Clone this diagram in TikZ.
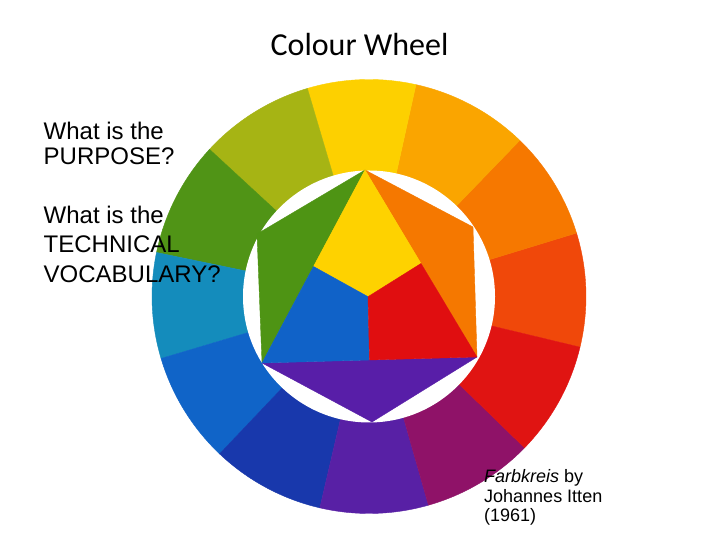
\documentclass[tikz,border=0pt]{standalone}
\usepackage{fontspec}
\setmainfont{Liberation Sans}
\newfontfamily\titlefont{Carlito}
\definecolor{cY}{RGB}{253,208,0}
\definecolor{cYO}{RGB}{250,165,0}
\definecolor{cO}{RGB}{246,120,0}
\definecolor{cRO}{RGB}{240,72,10}
\definecolor{cR}{RGB}{224,20,18}
\definecolor{cRV}{RGB}{143,18,104}
\definecolor{cV}{RGB}{88,32,165}
\definecolor{cBV}{RGB}{24,56,172}
\definecolor{cB}{RGB}{16,100,200}
\definecolor{cBG}{RGB}{20,140,188}
\definecolor{cG}{RGB}{80,148,22}
\definecolor{cYG}{RGB}{166,180,20}
\definecolor{iY}{RGB}{254,210,0}
\definecolor{iB}{RGB}{16,98,200}
\definecolor{iR}{RGB}{224,14,16}
\definecolor{iG}{RGB}{78,148,20}
\definecolor{iO}{RGB}{245,120,0}
\definecolor{iV}{RGB}{88,30,168}
\begin{document}
\begin{tikzpicture}[x=1pt,y=1pt,
  bigtxt/.style={inner sep=0pt, anchor=base west, font=\fontsize{24}{25}\selectfont},
  smalltxt/.style={inner sep=0pt, anchor=base west, font=\fontsize{18}{19.5}\selectfont},
  patch/.style={fill=#1, draw=#1, line width=0.4pt, line join=round}]
\useasboundingbox (0,0) rectangle (720,540);
\fill[white] (0,0) rectangle (720,540);
\coordinate (C) at (369,243.5);
% outer ring
\foreach \a/\b/\c in {-13.5/17/cRO, 17/46/cO, 46/77.5/cYO, 77.5/106.5/cY,
  106.5/137.3/cYG, 137.3/168.3/cG, 168.3/196.6/cBG, 196.6/226.5/cB,
  226.5/256.9/cBV, 256.9/285.9/cV, 285.9/315.8/cRV, 315.8/346.5/cR}
  {\path[patch=\c] (C) -- ++(\a:217) arc[start angle=\a, end angle=\b, radius=217] -- cycle;}
\fill[white] (C) circle[radius=126];
% inner figure
\coordinate (T) at (365,370);
\coordinate (UL) at (257,306);
\coordinate (UR) at (473,313);
\coordinate (LL) at (262,177);
\coordinate (LR) at (477,183);
\coordinate (B) at (372,118);
\coordinate (M) at (368,243.3);
\coordinate (ML) at (313.5,273.5);
\coordinate (MR) at (421,276.5);
\coordinate (MB) at (369.5,180);
\path[patch=iG] (T) -- (UL) -- (LL) -- cycle;
\path[patch=iO] (T) -- (UR) -- (LR) -- cycle;
\path[patch=iV] (LL) -- (LR) -- (B) -- cycle;
\path[patch=iY] (T) -- (ML) -- (M) -- (MR) -- cycle;
\path[patch=iB] (ML) -- (LL) -- (MB) -- (M) -- cycle;
\path[patch=iR] (M) -- (MB) -- (LR) -- (MR) -- cycle;
% texts
\node[inner sep=0pt, anchor=base, font=\titlefont\fontsize{32}{38}\selectfont] (title) at (359.5,484.3) {Colour Wheel};
\node[bigtxt] (q1a) at (43.5,400) {What is the};
\node[bigtxt] (q1b) at (43.5,375) {PURPOSE?};
\node[bigtxt] (q2a) at (43.5,316.7) {What is the};
\node[bigtxt] (q2b) at (43.5,287.3) {TECHNICAL};
\node[bigtxt] (q2c) at (43.5,257.7) {VOCABULARY?};
\node[smalltxt] (c1) at (484,57.3) {\textit{Farbkreis} by};
\node[smalltxt] (c2) at (484,37.5) {Johannes Itten};
\node[smalltxt] (c3) at (484,18.7) {(1961)};
\end{tikzpicture}
\end{document}
